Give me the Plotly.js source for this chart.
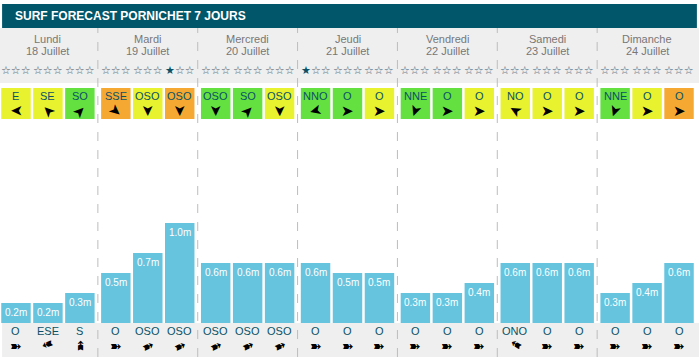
<!DOCTYPE html>
<html><head><meta charset="utf-8">
<script src="https://cdn.plot.ly/plotly-3.0.1.min.js"></script>
<style>html,body{margin:0;padding:0;background:#fff;}#chart{width:699px;height:363px;}</style>
</head><body><div id="chart"></div>
<script>
const title = "SURF FORECAST PORNICHET 7 JOURS";
const days = ["Lundi","Mardi","Mercredi","Jeudi","Vendredi","Samedi","Dimanche"];
const dates = ["18 Juillet","19 Juillet","20 Juillet","21 Juillet","22 Juillet","23 Juillet","24 Juillet"];
const stars = [0,0,0, 0,0,1, 0,0,0, 1,0,0, 0,0,0, 0,0,0, 0,0,0];
const windDir = ["E","SE","SO", "SSE","OSO","OSO", "OSO","SO","OSO", "NNO","O","O", "NNE","O","O", "NO","O","O", "NNE","O","O"];
const windLevel = ["y","y","g", "o","y","o", "g","g","y", "g","g","y", "g","g","y", "y","y","y", "g","y","o"];
const windAngle = [180,-135,-45, 40,90,90, 90,-45,90, 165,0,0, 110,0,0, -150,0,0, 110,0,0];
const waveHeight = [0.2,0.2,0.3, 0.5,0.7,1.0, 0.6,0.6,0.6, 0.6,0.5,0.5, 0.3,0.3,0.4, 0.6,0.6,0.6, 0.3,0.4,0.6];
const swellDir = ["O","ESE","S", "O","OSO","OSO", "OSO","OSO","OSO", "O","O","O", "O","O","O", "ONO","O","O", "O","O","O"];
const swellAngle = [0,160,-90, 0,-25,-25, -25,-25,-25, 0,0,0, 0,0,0, -150,0,0, 0,0,0];

const levelColor = {y:'#e9f22f', g:'#64e141', o:'#f6a932'};
const teal = '#0a5166';
const FONT = 'Arial, "Liberation Sans", sans-serif';

const slotX = waveHeight.map((_, i) => Math.floor(i/3) + (i%3 - 1)*0.32);

const traces = [
  {type:'bar', x:slotX, y:waveHeight, width:0.295, marker:{color:'#66c4de', line:{width:0}}, hoverinfo:'skip'},
  {type:'bar', x:slotX, y:slotX.map(()=>0.31), base:2.04, width:0.295,
   marker:{color:windLevel.map(l=>levelColor[l]), line:{width:0}}, hoverinfo:'skip'}
];

const shapes = [
  {type:'rect', xref:'paper', yref:'y', x0:0, x1:1, y0:2.40, y1:2.95, fillcolor:'#efefef', line:{width:0}, layer:'below'},
  {type:'rect', xref:'paper', yref:'y', x0:0.003, x1:1, y0:-0.34, y1:0, fillcolor:'#efefef', line:{width:0}, layer:'below'},
  {type:'rect', xref:'paper', yref:'y', x0:0.003, x1:0.997, y0:2.95, y1:3.19, fillcolor:'#02566a', line:{width:0}, layer:'below'}
];
for (let d = 0; d < days.length - 1; d++) {
  shapes.push({type:'line', xref:'x', yref:'y', x0:d+0.5, x1:d+0.5, y0:-0.34, y1:2.95,
    line:{color:'#bdbdbd', width:1, dash:'dash'}, layer:'below'});
}

const ann = [];
const A = (o) => ann.push(Object.assign({xref:'x', yref:'y', showarrow:false, xanchor:'center', yanchor:'middle', borderpad:0}, o));
ann.push({xref:'paper', yref:'y', x:13/699, y:3.07, xanchor:'left', yanchor:'middle', showarrow:false,
  text:'<b>'+title+'</b>', font:{family:FONT, size:12, color:'#ffffff'}});
days.forEach((d, i) => {
  A({x:i, y:2.84, text:d, font:{family:FONT, size:11, color:'#777777'}});
  A({x:i, y:2.72, text:dates[i], font:{family:FONT, size:11, color:'#777777'}});
});
slotX.forEach((x, i) => {
  let s = '';
  for (let k = 0; k < 3; k++) s += (k < stars[i]) ? '<span style="color:#0a5166">★</span>' : '☆';
  A({x:x, y:2.53, text:s, font:{family:'DejaVu Sans', size:11, color:'#3f6073'}});
  A({x:x, y:2.275, text:windDir[i], font:{family:FONT, size:11, color:teal}});
  A({x:x, y:2.12, text:'➤', textangle:windAngle[i], font:{family:'DejaVu Sans', size:15, color:'#000000'}});
  A({x:x, y:waveHeight[i], yshift:-9, text:waveHeight[i].toFixed(1)+'m', font:{family:FONT, size:10, color:'#ffffff'}});
  A({x:x, y:-0.075, text:swellDir[i], font:{family:FONT, size:11, color:teal}});
  A({x:x, y:-0.225, text:'➽', textangle:swellAngle[i], font:{family:'DejaVu Sans', size:14, color:'#000000'}});
});

const layout = {
  width:699, height:363, margin:{l:0, r:0, t:0, b:0},
  paper_bgcolor:'#ffffff', plot_bgcolor:'#ffffff',
  barmode:'overlay', showlegend:false,
  xaxis:{range:[-0.48, 6.52], visible:false, fixedrange:true},
  yaxis:{range:[-0.40, 3.23], visible:false, fixedrange:true},
  shapes:shapes, annotations:ann
};
Plotly.newPlot('chart', traces, layout, {staticPlot:true, displayModeBar:false});
</script></body></html>
